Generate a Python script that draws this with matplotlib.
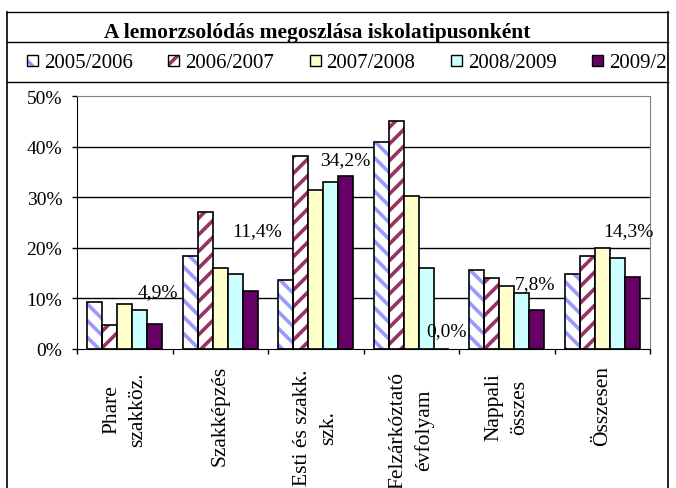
import numpy as np
import matplotlib.pyplot as plt
from matplotlib.patches import Rectangle

plt.rcParams['font.family'] = ['Liberation Serif', 'DejaVu Serif']
plt.rcParams['hatch.linewidth'] = 2.6

# data
categories = ["Phare\nszakköz.", "Szakképzés", "Esti és szakk.\nszk.",
              "Felzárkóztató\névfolyam", "Nappali\nösszes", "Összesen"]
years = ["2005/2006", "2006/2007", "2007/2008", "2008/2009", "2009/2010"]
v2005 = [9.3, 18.4, 13.6, 40.9, 15.6, 14.8]
v2006 = [4.8, 27.1, 38.1, 45.0, 14.0, 18.3]
v2007 = [8.9, 16.1, 31.4, 30.3, 12.4, 19.9]
v2008 = [7.7, 14.8, 33.0, 16.0, 11.1, 18.0]
v2009 = [4.9, 11.4, 34.2, 0.0, 7.8, 14.3]
series = [v2005, v2006, v2007, v2008, v2009]

faces = ['white', 'white', '#FFFFCC', '#CCFFFF', '#660066']
hatch_cols = ['#9999FF', '#993366', None, None, None]
hatches = ['\\\\', '//', None, None, None]

# pixel offsets of the 2009/2010 value labels (dx, dy) and category label drop
lab_off = [(3, 33), (7, 61), (0, 16), (5, 18), (-2, 26), (-4, 46)]
cat_drop = [60, 66, 78, 80, 57, 56]

W, H = 676, 489
RB = 668  # right border of the chart box
fig = plt.figure(figsize=(W / 100, H / 100), dpi=100)

# frame / title / legend drawn in pixel coordinates
fr = fig.add_axes([0, 0, RB / W, 1])
fr.set_xlim(0, RB)
fr.set_ylim(H, 0)
fr.axis('off')
for y in [13, 43, 83]:
    fr.plot([7, RB], [y, y], color='black', lw=1, clip_on=False)
fr.plot([7, 7], [13, H], color='black', lw=1.2, clip_on=False)
fr.plot([RB, RB], [13, H], color='black', lw=1.2, clip_on=False)

fr.text(317, 38, "A lemorzsolódás megoszlása iskolatipusonként", fontsize=15.5,
        fontweight='bold', ha='center', va='baseline')

for i, yr in enumerate(years):
    x0 = 27 + i * 141.3
    fr.add_patch(Rectangle((x0, 56), 11, 11, facecolor=faces[i], lw=0,
                           edgecolor=hatch_cols[i] or faces[i], hatch=hatches[i]))
    fr.add_patch(Rectangle((x0, 56), 11, 11, fill=False, edgecolor='black', lw=1))
    fr.text(x0 + 17, 68, yr, fontsize=15, ha='left', va='baseline',
            clip_on=True, clip_box=fr.bbox)

# the chart itself
ax = fig.add_axes([77 / W, (H - 350) / H, (650 - 77) / W, (350 - 97) / H])
n = len(categories)
w = 0.157
centers = np.arange(n) + 0.5
for i, vals in enumerate(series):
    xs = centers + (i - 2) * w
    vv = np.array(vals) / 100
    if hatches[i]:
        ax.bar(xs, vv, w, color='white', edgecolor=hatch_cols[i],
               hatch=hatches[i], linewidth=0, zorder=2)
        ax.bar(xs, vv, w, fill=False, edgecolor='black', linewidth=1.2, zorder=3)
    else:
        ax.bar(xs, vv, w, color=faces[i], edgecolor='black', linewidth=1.2, zorder=3)

# value labels for the last series
for j, v in enumerate(v2009):
    xs = centers[j] + 2 * w
    ax.annotate(f"{v:.1f}%".replace('.', ','), (xs, v / 100),
                xytext=lab_off[j], textcoords='offset pixels',
                ha='center', va='center', fontsize=14, zorder=5)

yt = [0, 0.1, 0.2, 0.3, 0.4, 0.5]
for t in yt[1:-1]:
    ax.axhline(t, color='black', lw=1, zorder=1)
ax.set_ylim(0, 0.5)
ax.set_xlim(0, n)
ax.set_yticks(yt)
ax.set_yticklabels([f"{int(t * 100)}%" for t in yt], fontsize=14)
ax.set_xticks(np.arange(n + 1))
ax.set_xticklabels([])
ax.tick_params(direction='out', length=3.6, width=1, pad=7)
for s in ['top', 'right']:
    ax.spines[s].set_color('#808080')
for s in ['left', 'bottom']:
    ax.spines[s].set_color('black')

for j, lab in enumerate(categories):
    ax.annotate(lab, (centers[j], 0), xycoords=('data', 'axes fraction'),
                xytext=(0, -cat_drop[j]), textcoords='offset pixels',
                rotation=90, ha='center', va='center', multialignment='center',
                fontsize=15.5, linespacing=1.5, annotation_clip=False)

fig.savefig('out.png', dpi=100)
